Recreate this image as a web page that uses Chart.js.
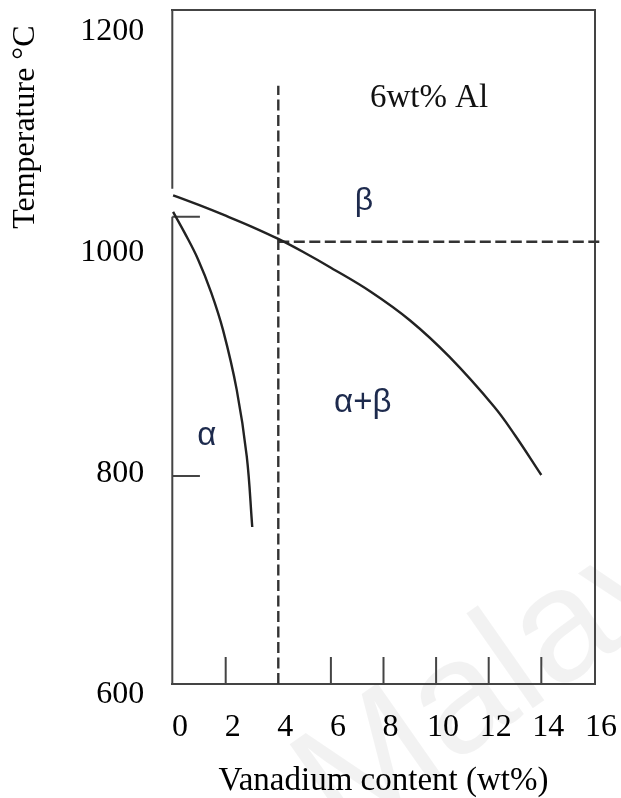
<!DOCTYPE html>
<html>
<head>
<meta charset="utf-8">
<script src="https://cdn.jsdelivr.net/npm/chart.js@4.4.1/dist/chart.umd.min.js"></script>
<style>
  html, body { margin: 0; padding: 0; background: #fff; }
  #wrap { width: 621px; height: 798px; position: relative; }
</style>
</head>
<body>
<div id="wrap"><canvas id="c"></canvas></div>
<script>
// β transus (upper phase boundary) against vanadium content, wt%
const betaTransusV = [0, 1, 2, 3, 4, 5, 6, 7.5, 9, 10.5, 12.2, 13, 14];
const betaTransusT = [1042, 1033, 1023.5, 1013.5, 1002.5, 990, 976.5, 955, 929, 896, 851, 825, 789];

// α / α+β boundary
const alphaBoundaryV = [0, 0.44, 0.95, 1.45, 1.9, 2.42, 2.8, 3.01];
const alphaBoundaryT = [1027, 1008, 984, 954, 920, 866, 806, 742];

// Ti-6Al-4V guide lines: 4 wt% V and its transus
const alloyV = 4;
const alloyTopT = 1141;
const transusT = 1000;
const transusEndV = 16.3;

// axis ranges and tick labels
const xMin = -0.03, xMax = 16.03;
const yMin = 600, yMax = 1210;
const xTickValues = [0, 2, 4, 6, 8, 10, 12, 14, 16];
const yTickValues = [600, 800, 1000, 1200];

// short inward tick marks drawn inside the frame
const innerTickV = [2, 6, 8, 10, 12, 14];
const innerTickTopT = 624.4;
const sideTickT = [1022.5, 788];
const sideTickEndV = 1.02;

// left frame line is broken where the boundaries meet it
const leftFrameGapT = [1022.5, 1048];

// phase-field labels (value coordinates)
const regionLabels = [
  { text: '6wt% Al', v: 9.73, t: 1122, font: '33px "Liberation Serif"', color: '#111' },
  { text: 'β',       v: 7.26, t: 1029, font: '32px "Liberation Sans"',  color: '#1d2a4d' },
  { text: 'α+β',     v: 7.21, t: 846,  font: '33px "Liberation Sans"',  color: '#1d2a4d' },
  { text: 'α',       v: 1.28, t: 816,  font: '33px "Liberation Sans"',  color: '#1d2a4d' }
];

const zip = (xs, ys) => xs.map((x, i) => ({ x: x, y: ys[i] }));

function segments(list) {
  const out = [];
  list.forEach((seg, i) => {
    if (i > 0) out.push({ x: seg[0].x, y: null });
    out.push(seg[0], seg[1]);
  });
  return out;
}

const xTickMarks = segments(innerTickV.map(v => [{ x: v, y: yMin }, { x: v, y: innerTickTopT }]));
const yTickMarks = segments(sideTickT.map(t => [{ x: xMin, y: t }, { x: sideTickEndV, y: t }]));
const leftFrame = segments([
  [{ x: xMin, y: yMin }, { x: xMin, y: leftFrameGapT[0] }],
  [{ x: xMin, y: leftFrameGapT[1] }, { x: xMin, y: yMax }]
]);

const solid = { borderColor: '#222', borderWidth: 2.4, pointRadius: 0, fill: false, clip: false, spanGaps: false, tension: 0.4 };
const dashed = { borderColor: '#333', borderWidth: 2.4, borderDash: [11, 4.5], pointRadius: 0, fill: false, clip: false };
const frame = { borderColor: '#444', borderWidth: 2, pointRadius: 0, fill: false, clip: false, spanGaps: false };

const serif = '"Liberation Serif", "Times New Roman", serif';

const labelPlugin = {
  id: 'regionLabels',
  beforeDraw(chart) {
    // faint diagonal watermark
    const ctx = chart.ctx;
    ctx.save();
    ctx.translate(342, 842);
    ctx.rotate(-35 * Math.PI / 180);
    ctx.font = '160px "Liberation Sans", sans-serif';
    ctx.fillStyle = 'rgba(0,0,0,0.05)';
    ctx.textBaseline = 'alphabetic';
    ctx.fillText('Malaya', 0, 0);
    ctx.restore();
  },
  afterDatasetsDraw(chart) {
    const ctx = chart.ctx;
    const xs = chart.scales.x, ys = chart.scales.y;
    ctx.save();
    ctx.textAlign = 'center';
    ctx.textBaseline = 'alphabetic';
    regionLabels.forEach(l => {
      ctx.font = l.font;
      ctx.fillStyle = l.color;
      ctx.fillText(l.text, xs.getPixelForValue(l.v), ys.getPixelForValue(l.t));
    });
    ctx.restore();
  }
};

new Chart(document.getElementById('c'), {
  type: 'line',
  data: {
    datasets: [
      Object.assign({ label: 'β transus', data: zip(betaTransusV, betaTransusT) }, solid),
      Object.assign({ label: 'α boundary', data: zip(alphaBoundaryV, alphaBoundaryT) }, solid),
      Object.assign({ label: '4 wt% V', data: [{ x: alloyV, y: yMin }, { x: alloyV, y: alloyTopT }] }, dashed),
      Object.assign({ label: 'transus', data: [{ x: alloyV, y: transusT }, { x: transusEndV, y: transusT }] }, dashed),
      Object.assign({ label: 'x ticks', data: xTickMarks }, frame),
      Object.assign({ label: 'y ticks', data: yTickMarks }, frame),
      Object.assign({ label: 'left frame', data: leftFrame }, frame)
    ]
  },
  options: {
    responsive: true,
    maintainAspectRatio: false,
    animation: false,
    layout: { padding: { top: 9.5, right: 26.3, left: 0, bottom: 0 } },
    plugins: { legend: { display: false }, tooltip: { enabled: false } },
    scales: {
      x: {
        type: 'linear', position: 'bottom', min: xMin, max: xMax,
        afterBuildTicks: s => { s.ticks = xTickValues.map(v => ({ value: v })); },
        afterFit: s => { s.height = 114; s.paddingLeft = 0; s.paddingRight = 0; },
        grid: { display: false, drawTicks: false },
        border: { display: true, color: '#444', width: 2 },
        ticks: { color: '#000', font: { family: serif, size: 32 }, padding: 24, labelOffset: 7,
                 autoSkip: false, maxRotation: 0, callback: v => String(v) },
        title: { display: true, text: 'Vanadium content (wt%)', color: '#000',
                 font: { family: serif, size: 33, lineHeight: 1 }, padding: { top: 0, bottom: 0 } }
      },
      y: {
        type: 'linear', position: 'left', min: yMin, max: yMax,
        afterBuildTicks: s => { s.ticks = yTickValues.map(v => ({ value: v })); },
        afterFit: s => { s.width = 172.3; s.paddingTop = 0; s.paddingBottom = 0; },
        grid: { display: false, drawTicks: false },
        border: { display: false },
        ticks: { color: '#000', font: { family: serif, size: 32 }, padding: 28, labelOffset: 11,
                 callback: v => String(v) },
        title: { display: true, text: 'Temperature °C  ', align: 'end', color: '#000',
                 font: { family: serif, size: 32, lineHeight: 1.2 }, padding: { top: 6, bottom: 0 } }
      },
      x2: {
        type: 'linear', position: 'top', min: xMin, max: xMax,
        afterFit: s => { s.height = 0; s.paddingLeft = 0; s.paddingRight = 0; },
        grid: { display: false, drawTicks: false },
        border: { display: true, color: '#444', width: 2 },
        ticks: { display: false }
      },
      y2: {
        type: 'linear', position: 'right', min: yMin, max: yMax,
        afterFit: s => { s.width = 0; s.paddingTop = 0; s.paddingBottom = 0; },
        grid: { display: false, drawTicks: false },
        border: { display: true, color: '#444', width: 2 },
        ticks: { display: false }
      }
    }
  },
  plugins: [labelPlugin]
});
</script>
</body>
</html>
